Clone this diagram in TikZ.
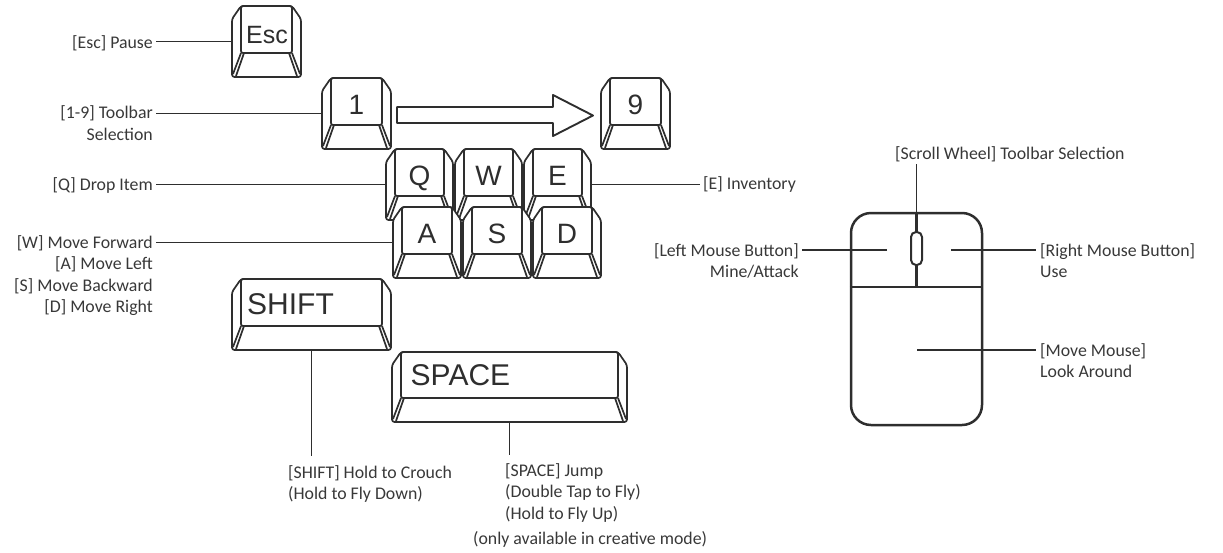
\documentclass[tikz,border=0pt]{standalone}
\usepackage{fontspec}
\setmainfont{Carlito}
\newfontfamily\keyfont{Liberation Sans}
\usetikzlibrary{calc}
\definecolor{ink}{HTML}{2E2E2E}
\definecolor{txt}{HTML}{383838}
\tikzset{
  keybox/.style 2 args={minimum width=#1, minimum height=#2, inner sep=0pt, outer sep=0pt},
  keyline/.style={draw=ink, line width=1.7pt, line join=round},
  keytext/.style={font=\keyfont\fontsize{28}{28}\selectfont, text=ink, inner sep=0pt, anchor=base},
  bigkeytext/.style={font=\keyfont\fontsize{30}{30}\selectfont, text=ink, inner sep=0pt, anchor=base west},
  lbl/.style={font=\fontsize{17.8}{21.5}\selectfont, text=txt, inner sep=0pt},
  conn/.style={draw=ink, line width=1.4pt},
  mline/.style={draw=ink, line width=2.5pt},
}
\newcommand\drawkey[1]{%
  \path[keyline, fill=white, rounded corners=2.5pt] ($(#1.north west)+(9,0)$) -- ($(#1.north east)+(-9,0)$) -- ($(#1.north east)+(0,13)$) -- (#1.south east) -- (#1.south west) -- ($(#1.north west)+(0,13)$) -- cycle;
  \draw[keyline, rounded corners=2pt] ($(#1.north west)+(9,0)$) rectangle ($(#1.south east)+(-9,-24)$);
  \draw[keyline] ($(#1.south west)+(9,-24)$) -- ($(#1.south west)+(1,-3)$);
  \draw[keyline] ($(#1.south west)+(12,-24)$) -- ($(#1.south west)+(4,-1)$);
  \draw[keyline] ($(#1.south east)+(-9,-24)$) -- ($(#1.south east)+(-1,-3)$);
  \draw[keyline] ($(#1.south east)+(-12,-24)$) -- ($(#1.south east)+(-4,-1)$);
}
\begin{document}
\begin{tikzpicture}[x=1pt, y=-1pt]
\useasboundingbox (0,0) rectangle (1223,552);

% keys
\node[keybox={69}{71}] (esc) at (266.5,41.5) {};
\drawkey{esc}
\node[keytext, font=\keyfont\fontsize{25}{25}\selectfont] (esct) at ($(esc.north)+(0.5,37)$) {Esc};

\node[keybox={69}{71}] (one) at (356.5,113.5) {};
\drawkey{one}
\node[keytext] (onet) at ($(one.north)+(0,36)$) {1};

\node[keybox={69}{71}] (nine) at (635.5,113.5) {};
\drawkey{nine}
\node[keytext] (ninet) at ($(nine.north)+(0,36)$) {9};

\path[keyline, line width=1.9pt] ($(one.east)+(6,-6.5)$) -- ($(nine.west)+(-48,-6.5)$) -- ($(nine.west)+(-48,-18.5)$) -- ($(nine.west)+(-8,2)$) -- ($(nine.west)+(-48,22.5)$) -- ($(nine.west)+(-48,9.5)$) -- ($(one.east)+(6,9.5)$) -- cycle;

\node[keybox={67}{71}] (q) at (419.5,184.5) {};
\node[keybox={67}{71}] (w) at (488.5,184.5) {};
\node[keybox={67}{71}] (e) at (557.5,184.5) {};
\drawkey{q}\drawkey{w}\drawkey{e}
\node[keytext] (qt) at ($(q.north)+(0,36)$) {Q};
\node[keytext] (wt) at ($(w.north)+(0,36)$) {W};
\node[keytext] (et) at ($(e.north)+(0,36)$) {E};

\node[keybox={68}{71}] (a) at (427,242.5) {};
\node[keybox={68}{71}] (s) at (497,242.5) {};
\node[keybox={68}{71}] (d) at (567,242.5) {};
\drawkey{a}\drawkey{s}\drawkey{d}
\node[keytext] (akt) at ($(a.north)+(0,36)$) {A};
\node[keytext] (skt) at ($(s.north)+(0,36)$) {S};
\node[keytext] (dkt) at ($(d.north)+(0,36)$) {D};

\node[keybox={159}{71}] (shift) at (311.5,314.5) {};
\drawkey{shift}
\node[bigkeytext] (shiftt) at ($(shift.north west)+(15,35)$) {SHIFT};

\node[keybox={235}{70}] (space) at (509.5,387) {};
\drawkey{space}
\node[bigkeytext] (spacet) at ($(space.north west)+(18.5,33)$) {SPACE};

% left labels (base anchor = baseline of last line)
\node[lbl, anchor=base east] (escL) at (153,48) {[Esc] Pause};
\draw[conn] (esc.west) -- ($(esc.west -| escL.east)+(3,0)$);
\node[lbl, anchor=base east, align=right] (toolL) at (153,140) {[1-9] Toolbar\\Selection};
\draw[conn] (one.west) -- ($(one.west -| toolL.east)+(3,0)$);
\node[lbl, anchor=base east] (dropL) at (153,190) {[Q] Drop Item};
\draw[conn] (q.west) -- ($(q.west -| dropL.east)+(3,0)$);
\node[lbl, anchor=base east, align=right] (moveL) at (153,312.5) {[W] Move Forward\\{}[A] Move Left\\{}[S] Move Backward\\{}[D] Move Right};
\draw[conn] (a.west) -- ($(a.west -| moveL.east)+(3,0)$);

\node[lbl, anchor=base west] (invL) at (703,189) {[E] Inventory};
\draw[conn] (e.east) -- ($(e.east -| invL.west)+(-3,0)$);

% bottom labels
\node[lbl, anchor=base west, align=left] (shiftL) at (288,499.5) {[SHIFT] Hold to Crouch\\(Hold to Fly Down)};
\draw[conn] (shift.south) -- ($(shift.south |- shiftL.north)+(0,-9)$);
\node[lbl, anchor=base west, align=left] (spaceL) at (505,519) {[SPACE] Jump\\(Double Tap to Fly)\\(Hold to Fly Up)};
\draw[conn] (space.south) -- ($(space.south |- spaceL.north)+(0,-8)$);
\node[lbl, anchor=base west] (noteL) at (473,544) {(only available in creative mode)};

% mouse
\node[mline, rounded corners=20pt, minimum width=131, minimum height=212, inner sep=0pt] (mouse) at (916.5,319) {};
\coordinate (div) at (916.5,287);
\draw[mline] (mouse.west |- div) -- (mouse.east |- div);
\draw[mline] (mouse.north) -- (div);
\node[draw=ink, line width=2pt, fill=white, rounded corners=5pt, minimum width=11, minimum height=33, inner sep=0pt] (wheel) at (916.5,248.5) {};
\node[lbl, anchor=base west] (scrollL) at (895,159) {[Scroll Wheel] Toolbar Selection};
\draw[conn] (wheel.north) -- ($(wheel.north |- scrollL.south)+(0,2)$);

\coordinate (lb) at (887,250);
\coordinate (rb) at (951,250);
\coordinate (mv) at (917,350);
\node[lbl, anchor=base east, align=right] (lbL) at (799,277.5) {[Left Mouse Button]\\Mine/Attack};
\draw[conn] (lb) -- ($(lbL.east |- lb)+(3,0)$);
\node[lbl, anchor=base west, align=left] (rbL) at (1040,277.5) {[Right Mouse Button]\\Use};
\draw[conn] (rb) -- ($(rbL.west |- rb)+(-4,0)$);
\node[lbl, anchor=base west, align=left] (mvL) at (1040,377.5) {[Move Mouse]\\Look Around};
\draw[conn] (mv) -- ($(mvL.west |- mv)+(-4,0)$);
\end{tikzpicture}
\end{document}
